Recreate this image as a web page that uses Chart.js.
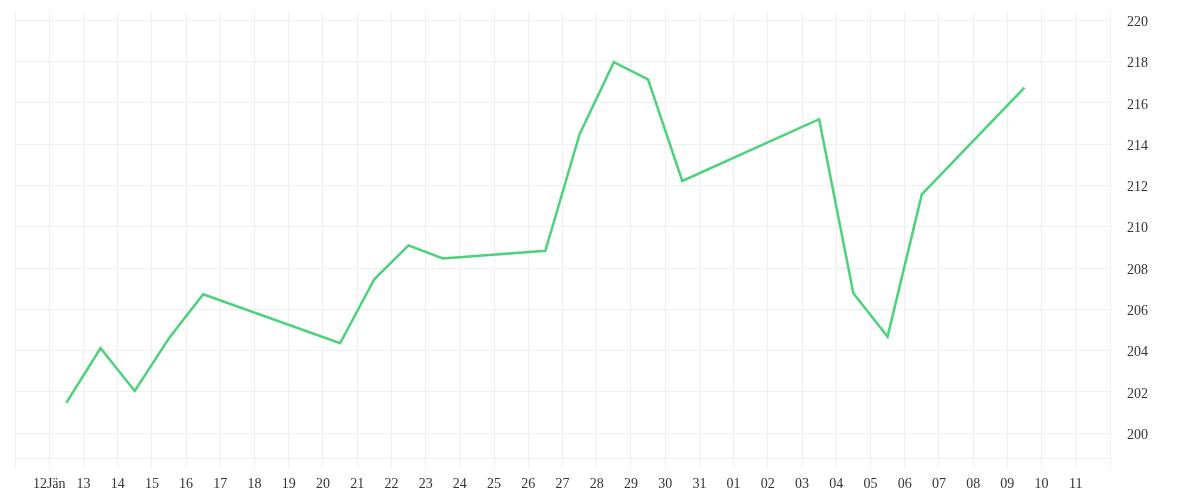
<!DOCTYPE html>
<html>
<head>
<meta charset="utf-8">
<script src="https://cdn.jsdelivr.net/npm/chart.js@4.4.1/dist/chart.umd.min.js"></script>
<style>
  html, body { margin: 0; padding: 0; background: #fff; }
  #wrap { width: 1200px; height: 500px; }
</style>
</head>
<body>
<div id="wrap"><canvas id="price-chart" width="1200" height="500"></canvas></div>
<script>
// day labels for each gridline (index 0 = 11 Jan, 32 = right edge)
const dayLabels = ['', '12Jän', '13', '14', '15', '16', '17', '18', '19', '20', '21', '22', '23', '24',
  '25', '26', '27', '28', '29', '30', '31', '01', '02', '03', '04', '05', '06', '07', '08', '09', '10', '11', ''];

// point positions on the day axis and closing values
const dayPos = [1.5, 2.5, 3.5, 4.5, 5.5, 9.5, 10.5, 11.5, 12.5, 15.5, 16.5, 17.5, 18.5, 19.5, 23.5, 24.5, 25.5, 26.5, 29.5];
const prices = [201.48, 204.12, 202.05, 204.6, 206.73, 204.36, 207.46, 209.1, 208.47, 208.84,
  214.48, 217.97, 217.14, 212.22, 215.21, 206.78, 204.68, 211.57, 216.74];

const priceTicks = [200, 202, 204, 206, 208, 210, 212, 214, 216, 218, 220];
const extraLine = 198.8; // unlabeled line near the bottom

const gridColor = '#efefef';

Chart.defaults.font.family = "'Liberation Serif', 'DejaVu Serif', serif";
Chart.defaults.font.size = 14;
Chart.defaults.color = '#333';

const ctx = document.getElementById('price-chart').getContext('2d');
new Chart(ctx, {
  type: 'line',
  data: {
    datasets: [{
      data: dayPos.map((d, i) => ({ x: d, y: prices[i] })),
      borderColor: '#4cd27b',
      borderWidth: 2.5,
      pointRadius: 0,
      tension: 0,
      fill: false
    }]
  },
  options: {
    responsive: false,
    animation: false,
    devicePixelRatio: 1,
    layout: { padding: { left: 15, top: 12, right: 0, bottom: 0 } },
    plugins: { legend: { display: false }, tooltip: { enabled: false } },
    scales: {
      x: {
        type: 'linear',
        min: 0,
        max: 32,
        afterBuildTicks: scale => {
          scale.ticks = dayLabels.map((_, i) => ({ value: i }));
        },
        afterFit: scale => {
          scale.height = 32;
          scale.paddingLeft = 0;
          scale.paddingRight = 0;
        },
        grid: { color: gridColor, drawTicks: false },
        border: { display: false },
        ticks: {
          autoSkip: false,
          maxRotation: 0,
          padding: 8,
          callback: v => dayLabels[v] || ''
        }
      },
      y: {
        position: 'right',
        min: 198.32,
        max: 220.4,
        afterBuildTicks: scale => {
          scale.ticks = [extraLine].concat(priceTicks).map(v => ({ value: v }));
        },
        afterFit: scale => {
          scale.width = 90;
          scale.paddingTop = 0;
          scale.paddingBottom = 0;
        },
        grid: { color: gridColor, drawTicks: false },
        border: { display: true, color: gridColor },
        ticks: {
          padding: 17,
          labelOffset: 2,
          callback: v => priceTicks.includes(v) ? String(v) : ''
        }
      }
    }
  }
});
</script>
</body>
</html>
